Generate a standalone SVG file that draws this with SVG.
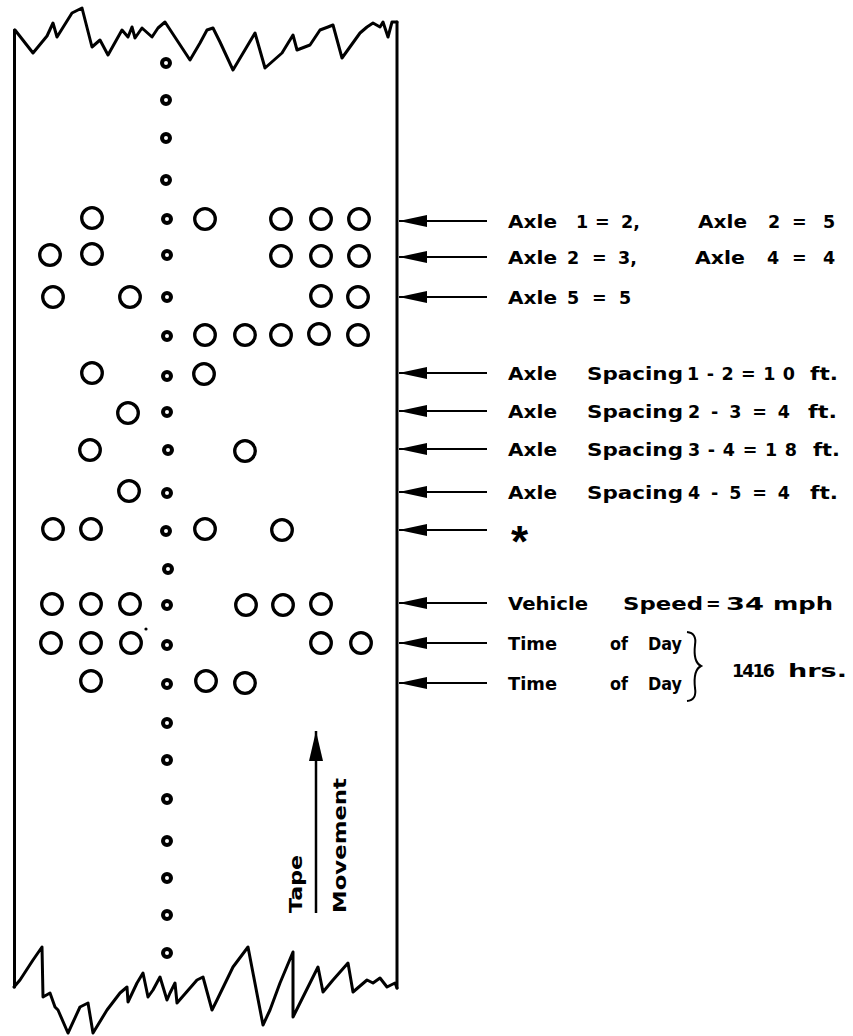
<svg xmlns="http://www.w3.org/2000/svg" width="853" height="1036" viewBox="0 0 853 1036">
<style>
.edge{fill:none;stroke:#000;stroke-width:3;stroke-linejoin:round;stroke-linecap:round}
.hole{fill:none;stroke:#000;stroke-width:3.3}
.sp{fill:none;stroke:#000;stroke-width:4}
.ln{stroke:#000;stroke-width:2}
.t{font-family:"DejaVu Sans","Liberation Sans",sans-serif;font-weight:bold;font-size:17.5px;fill:#000}
.tv{font-family:"DejaVu Sans","Liberation Sans",sans-serif;font-weight:bold;font-size:18.5px;fill:#000}
</style>
<defs>
<marker id="ah" markerUnits="userSpaceOnUse" viewBox="0 0 28 12" refX="28" refY="6" markerWidth="28" markerHeight="12" orient="auto">
<path d="M28,6 L0,0 L0,12 Z" fill="#000"/>
</marker>
<marker id="au" markerUnits="userSpaceOnUse" viewBox="0 0 30 16" refX="30" refY="8" markerWidth="30" markerHeight="16" orient="auto">
<path d="M30,8 L0,1 L0,15 Z" fill="#000"/>
</marker>
</defs>
<g id="tape">
<polyline class="edge" points="15,30 33,53 47,36 53,23 57,37 72,13 82,8 92,47 100,40 108,55 122,30 128,37 132,27 135,38 142,28 152,37 158,28 165,22 190,60 200,43 207,30 213,28 220,42 233,70 255,33 265,68 282,53 293,35 297,50 310,45 320,30 328,27 333,25 342,58 360,33 367,27 373,23 380,27 383,22 388,37 392,22 397,22"/>
<polyline class="edge" points="14,987 20,980 33,960 42,947 43,997 50,993 55,1007 58,1010 68,1033 80,1007 88,1003 93,1033 107,1010 120,993 127,987 128,1002 137,983 143,973 148,997 153,990 160,977 167,1000 170,993 175,983 177,1003 197,980 203,977 212,1010 217,1000 233,967 248,947 263,1025 270,1010 280,983 293,952 293,1017 303,997 318,967 323,992 333,980 348,963 353,992 367,980 373,983 380,978 387,987 395,983 397,988"/>
<line class="edge" x1="14.5" y1="30" x2="14.5" y2="987"/>
<line class="edge" x1="397" y1="22" x2="397" y2="988"/>
</g>
<g id="sprocket">
<circle class="sp" cx="166" cy="63" r="4"/>
<circle class="sp" cx="166" cy="100" r="4"/>
<circle class="sp" cx="166" cy="138" r="4"/>
<circle class="sp" cx="166" cy="180" r="4"/>
<circle class="sp" cx="167" cy="219" r="4"/>
<circle class="sp" cx="167" cy="255" r="4"/>
<circle class="sp" cx="167" cy="297" r="4"/>
<circle class="sp" cx="167" cy="336" r="4"/>
<circle class="sp" cx="167" cy="376" r="4"/>
<circle class="sp" cx="167" cy="412" r="4"/>
<circle class="sp" cx="168" cy="450" r="4"/>
<circle class="sp" cx="167" cy="493" r="4"/>
<circle class="sp" cx="166" cy="531" r="4"/>
<circle class="sp" cx="168" cy="569" r="4"/>
<circle class="sp" cx="167" cy="605" r="4"/>
<circle class="sp" cx="167" cy="645" r="4"/>
<circle class="sp" cx="167" cy="684" r="4"/>
<circle class="sp" cx="167" cy="723" r="4"/>
<circle class="sp" cx="167" cy="760" r="4"/>
<circle class="sp" cx="167" cy="799" r="4"/>
<circle class="sp" cx="167" cy="841" r="4"/>
<circle class="sp" cx="167" cy="878" r="4"/>
<circle class="sp" cx="167" cy="915" r="4"/>
<circle class="sp" cx="167" cy="953" r="4"/>
</g>
<g id="holes">
<circle class="hole" cx="92" cy="218" r="10.3"/>
<circle class="hole" cx="205" cy="219" r="10.3"/>
<circle class="hole" cx="281" cy="219" r="10.3"/>
<circle class="hole" cx="321" cy="219" r="10.3"/>
<circle class="hole" cx="359" cy="219" r="10.3"/>
<circle class="hole" cx="50" cy="255" r="10.3"/>
<circle class="hole" cx="92" cy="254" r="10.3"/>
<circle class="hole" cx="281" cy="256" r="10.3"/>
<circle class="hole" cx="321" cy="256" r="10.3"/>
<circle class="hole" cx="359" cy="256" r="10.3"/>
<circle class="hole" cx="53" cy="297" r="10.3"/>
<circle class="hole" cx="130" cy="297" r="10.3"/>
<circle class="hole" cx="321" cy="296" r="10.3"/>
<circle class="hole" cx="358" cy="297" r="10.3"/>
<circle class="hole" cx="205" cy="335" r="10.3"/>
<circle class="hole" cx="245" cy="335" r="10.3"/>
<circle class="hole" cx="281" cy="335" r="10.3"/>
<circle class="hole" cx="319" cy="334" r="10.3"/>
<circle class="hole" cx="358" cy="335" r="10.3"/>
<circle class="hole" cx="92" cy="373" r="10.3"/>
<circle class="hole" cx="204" cy="374" r="10.3"/>
<circle class="hole" cx="128" cy="413" r="10.3"/>
<circle class="hole" cx="90" cy="450" r="10.3"/>
<circle class="hole" cx="245" cy="451" r="10.3"/>
<circle class="hole" cx="129" cy="491" r="10.3"/>
<circle class="hole" cx="53" cy="529" r="10.3"/>
<circle class="hole" cx="91" cy="529" r="10.3"/>
<circle class="hole" cx="205" cy="529" r="10.3"/>
<circle class="hole" cx="282" cy="530" r="10.3"/>
<circle class="hole" cx="52" cy="604" r="10.3"/>
<circle class="hole" cx="91" cy="604" r="10.3"/>
<circle class="hole" cx="130" cy="604" r="10.3"/>
<circle class="hole" cx="246" cy="605" r="10.3"/>
<circle class="hole" cx="283" cy="605" r="10.3"/>
<circle class="hole" cx="321" cy="604" r="10.3"/>
<circle class="hole" cx="51" cy="643" r="10.3"/>
<circle class="hole" cx="91" cy="643" r="10.3"/>
<circle class="hole" cx="131" cy="643" r="10.3"/>
<circle class="hole" cx="321" cy="643" r="10.3"/>
<circle class="hole" cx="361" cy="643" r="10.3"/>
<circle class="hole" cx="91" cy="681" r="10.3"/>
<circle class="hole" cx="206" cy="681" r="10.3"/>
<circle class="hole" cx="245" cy="683" r="10.3"/>
<circle cx="146" cy="629" r="1.6" fill="#000"/>
</g>
<g id="connectors">
<line class="ln" x1="487" y1="221" x2="399" y2="221" marker-end="url(#ah)"/>
<line class="ln" x1="487" y1="257" x2="399" y2="257" marker-end="url(#ah)"/>
<line class="ln" x1="487" y1="297" x2="399" y2="297" marker-end="url(#ah)"/>
<line class="ln" x1="487" y1="373" x2="399" y2="373" marker-end="url(#ah)"/>
<line class="ln" x1="487" y1="411" x2="399" y2="411" marker-end="url(#ah)"/>
<line class="ln" x1="487" y1="449" x2="399" y2="449" marker-end="url(#ah)"/>
<line class="ln" x1="487" y1="492" x2="399" y2="492" marker-end="url(#ah)"/>
<line class="ln" x1="487" y1="530" x2="399" y2="530" marker-end="url(#ah)"/>
<line class="ln" x1="487" y1="603" x2="399" y2="603" marker-end="url(#ah)"/>
<line class="ln" x1="487" y1="643" x2="399" y2="643" marker-end="url(#ah)"/>
<line class="ln" x1="487" y1="683" x2="399" y2="683" marker-end="url(#ah)"/>
</g>
<g id="label-axle-1-2">
<text class="t" x="508" y="228" textLength="49" lengthAdjust="spacingAndGlyphs">Axle</text>
<text class="t" x="576" y="228">1</text>
<text class="t" x="595" y="228">=</text>
<text class="t" x="621" y="228">2,</text>
<text class="t" x="698" y="228" textLength="49" lengthAdjust="spacingAndGlyphs">Axle</text>
<text class="t" x="768" y="228">2</text>
<text class="t" x="792" y="228">=</text>
<text class="t" x="823" y="228">5</text>
</g>
<g id="label-axle-2-4">
<text class="t" x="508" y="264" textLength="49" lengthAdjust="spacingAndGlyphs">Axle</text>
<text class="t" x="567" y="264">2</text>
<text class="t" x="592" y="264">=</text>
<text class="t" x="618" y="264">3,</text>
<text class="t" x="695" y="264" textLength="50" lengthAdjust="spacingAndGlyphs">Axle</text>
<text class="t" x="767" y="264">4</text>
<text class="t" x="792" y="264">=</text>
<text class="t" x="823" y="264">4</text>
</g>
<g id="label-axle-5">
<text class="t" x="508" y="304" textLength="49" lengthAdjust="spacingAndGlyphs">Axle</text>
<text class="t" x="567" y="304">5</text>
<text class="t" x="592" y="304">=</text>
<text class="t" x="619" y="304">5</text>
</g>
<g id="label-spacing-1-2">
<text class="t" x="508" y="380" textLength="49" lengthAdjust="spacingAndGlyphs">Axle</text>
<text class="t" x="587" y="380" textLength="96" lengthAdjust="spacingAndGlyphs">Spacing</text>
<text class="t" x="687" y="380" textLength="108" lengthAdjust="spacing">1-2=10</text>
<text class="t" x="810" y="380" textLength="28" lengthAdjust="spacingAndGlyphs">ft.</text>
</g>
<g id="label-spacing-2-3">
<text class="t" x="508" y="418" textLength="49" lengthAdjust="spacingAndGlyphs">Axle</text>
<text class="t" x="587" y="418" textLength="96" lengthAdjust="spacingAndGlyphs">Spacing</text>
<text class="t" x="688" y="418" textLength="102" lengthAdjust="spacing">2-3=4</text>
<text class="t" x="808" y="418" textLength="29" lengthAdjust="spacingAndGlyphs">ft.</text>
</g>
<g id="label-spacing-3-4">
<text class="t" x="508" y="456" textLength="49" lengthAdjust="spacingAndGlyphs">Axle</text>
<text class="t" x="587" y="456" textLength="96" lengthAdjust="spacingAndGlyphs">Spacing</text>
<text class="t" x="688" y="456" textLength="109" lengthAdjust="spacing">3-4=18</text>
<text class="t" x="813" y="456" textLength="27" lengthAdjust="spacingAndGlyphs">ft.</text>
</g>
<g id="label-spacing-4-5">
<text class="t" x="508" y="499" textLength="49" lengthAdjust="spacingAndGlyphs">Axle</text>
<text class="t" x="587" y="499" textLength="96" lengthAdjust="spacingAndGlyphs">Spacing</text>
<text class="t" x="688" y="499" textLength="102" lengthAdjust="spacing">4-5=4</text>
<text class="t" x="810" y="499" textLength="28" lengthAdjust="spacingAndGlyphs">ft.</text>
</g>
<g id="label-star">
<text x="511" y="557" style="font-family:'Liberation Sans',Arial,sans-serif;font-weight:bold;font-size:44px">*</text>
</g>
<g id="label-speed">
<text class="t" x="508" y="610" textLength="80" lengthAdjust="spacingAndGlyphs">Vehicle</text>
<text class="t" x="623" y="610" textLength="80" lengthAdjust="spacingAndGlyphs">Speed</text>
<text class="t" x="706" y="610">=</text>
<text class="t" x="726" y="610" textLength="38" lengthAdjust="spacingAndGlyphs">34</text>
<text class="t" x="773" y="610" textLength="60" lengthAdjust="spacingAndGlyphs">mph</text>
</g>
<g id="label-time-1">
<text class="t" x="508" y="650" textLength="49" lengthAdjust="spacingAndGlyphs">Time</text>
<text class="t" x="610" y="650" textLength="18" lengthAdjust="spacingAndGlyphs">of</text>
<text class="t" x="648" y="650" textLength="34" lengthAdjust="spacingAndGlyphs">Day</text>
</g>
<g id="label-time-2">
<text class="t" x="508" y="690" textLength="49" lengthAdjust="spacingAndGlyphs">Time</text>
<text class="t" x="610" y="690" textLength="18" lengthAdjust="spacingAndGlyphs">of</text>
<text class="t" x="648" y="690" textLength="34" lengthAdjust="spacingAndGlyphs">Day</text>
</g>
<g id="brace-hours">
<path class="ln" fill="none" d="M687,632 Q697,633 695,645 Q693,662 701,666 Q693,670 695,688 Q697,700 687,701"/>
<text class="t" x="732" y="677" textLength="43" lengthAdjust="spacing">1416</text>
<text class="t" x="788" y="677" textLength="59" lengthAdjust="spacingAndGlyphs">hrs.</text>
</g>
<g id="tape-movement">
<line x1="316" y1="913" x2="316" y2="731" stroke="#000" stroke-width="2.5" marker-end="url(#au)"/>
<text class="tv" transform="translate(302,913) rotate(-90)" textLength="58" lengthAdjust="spacingAndGlyphs">Tape</text>
<text class="tv" transform="translate(346,913) rotate(-90)" textLength="135" lengthAdjust="spacingAndGlyphs">Movement</text>
</g>
</svg>
